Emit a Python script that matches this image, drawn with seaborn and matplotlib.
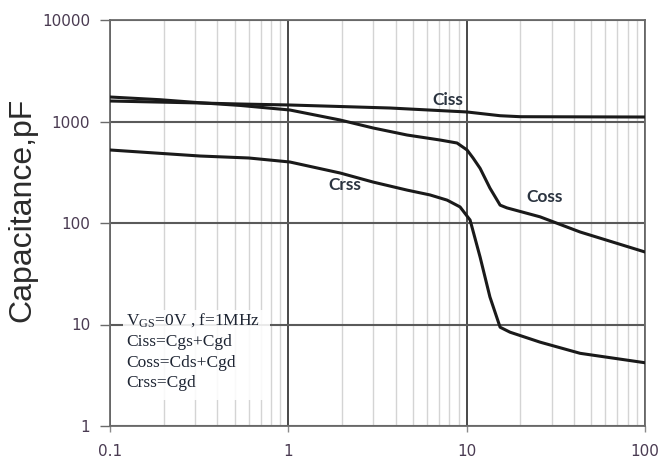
import matplotlib
matplotlib.use("Agg")
import matplotlib.pyplot as plt
from matplotlib.ticker import LogLocator, FixedLocator, FixedFormatter, NullFormatter
from matplotlib.patches import Rectangle
import numpy as np
import pandas as pd
import seaborn as sns

# Drain-source voltage (V) and capacitances (pF) for each curve
ciss_vds = [0.1, 0.32, 0.536, 1.02, 3.72, 10.05, 11.9, 15.4, 20.0, 100]
ciss_pf = [1592, 1522, 1487, 1454, 1358, 1241, 1200, 1140, 1115, 1107]

coss_vds = [0.1, 0.19, 0.32, 0.536, 1.02, 1.95, 2.99, 4.63, 7.09, 8.83, 10.05,
            10.86, 11.9, 13.5, 15.4, 16.8, 25.8, 43.3, 100]
coss_pf = [1743, 1640, 1530, 1440, 1298, 1035, 863, 736, 657, 614, 524,
           437, 345, 221, 150, 141, 115, 81.5, 51.8]

crss_vds = [0.1, 0.32, 0.6, 1.02, 1.95, 2.99, 4.63, 6.23, 7.77, 9.18, 10.45,
            11.9, 13.5, 15.4, 17.5, 25.8, 43.3, 100]
crss_pf = [524, 457, 437, 399, 311, 253, 211, 189, 168, 144, 107,
           46, 18.7, 9.4, 8.4, 6.7, 5.2, 4.2]

y_ticks = [1, 10, 100, 1000, 10000]
y_tick_labels = ["1", "10", "100", "1000", "10000"]
x_ticks = [0.1, 1, 10, 100]
x_tick_labels = ["0.1", "1", "10", "100"]

curve_labels = ["Ciss", "Coss", "Crss"]
note_lines = ["V$_{\\mathrm{GS}}$=0V , f=1MHz", "Ciss=Cgs+Cgd", "Coss=Cds+Cgd", "Crss=Cgd"]

df = pd.concat([
    pd.DataFrame({"vds": ciss_vds, "cap": ciss_pf, "curve": "Ciss"}),
    pd.DataFrame({"vds": coss_vds, "cap": coss_pf, "curve": "Coss"}),
    pd.DataFrame({"vds": crss_vds, "cap": crss_pf, "curve": "Crss"}),
], ignore_index=True)

sns.set_theme(style="white")
plt.rcParams["font.family"] = ["DejaVu Sans"]
plt.rcParams["mathtext.fontset"] = "custom"
plt.rcParams["mathtext.rm"] = "Liberation Serif"
plt.rcParams["mathtext.it"] = "Liberation Serif:italic"

fig = plt.figure(figsize=(6.64, 4.59), dpi=100)
ax = fig.add_axes([110 / 664, 1 - 426 / 459, 535 / 664, 406 / 459])

for name in curve_labels:
    sns.lineplot(data=df[df["curve"] == name], x="vds", y="cap", ax=ax,
                 color="#1a1a1a", linewidth=2.2, estimator=None, legend=False,
                 zorder=5)

ax.set_xscale("log")
ax.set_yscale("log")
ax.set_xlim(0.1, 100)
ax.set_ylim(1, 10000)

# Major/minor grid: light minor verticals, dark decade lines
ax.xaxis.set_major_locator(FixedLocator(x_ticks))
ax.xaxis.set_major_formatter(FixedFormatter(x_tick_labels))
ax.xaxis.set_minor_locator(LogLocator(base=10, subs=np.arange(2, 10)))
ax.xaxis.set_minor_formatter(NullFormatter())
ax.yaxis.set_major_locator(FixedLocator(y_ticks))
ax.yaxis.set_major_formatter(FixedFormatter(y_tick_labels))
ax.yaxis.set_minor_locator(FixedLocator([]))

ax.grid(True, which="minor", axis="x", color="#d4d4d4", linewidth=1.0, zorder=0)
ax.grid(True, which="major", axis="x", color="#3a3a3a", linewidth=1.3, zorder=1)
ax.grid(True, which="major", axis="y", color="#5a5a5a", linewidth=1.5, zorder=1)
ax.set_axisbelow(True)

for side in ["left", "right", "top", "bottom"]:
    ax.spines[side].set_visible(True)
    ax.spines[side].set_color("#6a6a6a")
    ax.spines[side].set_linewidth(1.3)

tick_color = "#4a3b52"
ax.tick_params(axis="y", which="major", left=True, length=7.2, width=1.0,
               color="#6a6a6a", pad=7, labelsize=11, labelcolor=tick_color)
ax.tick_params(axis="x", which="major", bottom=True, length=4.3, width=1.0,
               color="#8a8a8a", pad=8.5, labelsize=11, labelcolor=tick_color)
ax.tick_params(axis="x", which="minor", length=0)

ax.set_xlabel("")
ax.set_ylabel("Capacitance,pF", fontsize=23, color="#2b2b2b",
              family=["Liberation Sans", "DejaVu Sans"], va="center")
ax.yaxis.set_label_coords(-0.164, 0.532)

# Curve names
label_font = dict(family=["Lato", "DejaVu Sans"], fontweight="bold", fontsize=12.5,
                  color="#2b3440", ha="center", va="center", zorder=6)
ax.text(7.87, 1640, curve_labels[0], **label_font)
ax.text(27.5, 180, curve_labels[1], **label_font)
ax.text(2.08, 237, curve_labels[2], **label_font)

# Test-condition note with a white backing box
ax.add_patch(Rectangle((0.024, 0.064), 0.275, 0.222, transform=ax.transAxes,
                       facecolor="white", edgecolor="none", alpha=0.88, zorder=2))
ax.text(0.03, 0.283, "\n".join(note_lines), transform=ax.transAxes,
        family=["Liberation Serif", "DejaVu Serif"], fontsize=12.5,
        color="#1e2533", ha="left", va="top", linespacing=1.4, zorder=3)

fig.savefig("out.png", dpi=100)
